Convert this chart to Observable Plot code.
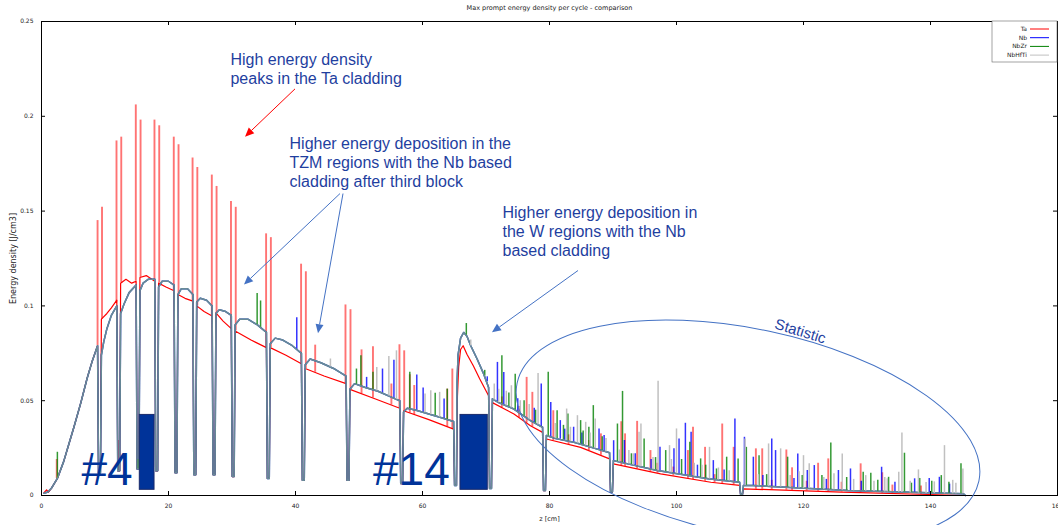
<!DOCTYPE html>
<html><head><meta charset="utf-8">
<script src="https://cdn.jsdelivr.net/npm/d3@7"></script>
<script src="https://cdn.jsdelivr.net/npm/@observablehq/plot@0.6"></script>
<style>body{margin:0;background:#fff;}</style>
</head><body><div id="chart"></div>
<script>
const title = "Max prompt energy density per cycle - comparison";
const xLabel = "z [cm]";
const yLabel = "Energy density [J/cm3]";
const seriesNames = ["Ta", "Nb", "NbZr", "NbHfTi"];
const seriesColors = ["#ff0000", "#0000ff", "#008000", "#c0c0c0"];
const xTicks = [0, 20, 40, 60, 80, 100, 120, 140, 160];
const yTicks = [0, 0.05, 0.1, 0.15, 0.2, 0.25];

// base curve of Ta cladding [z, value]
const taBase = [[0.4,0.0015],[0.8,0.003],[1.1,0.0018],[1.6,0.004],[2.5,0.009],[3.5,0.018],[4.3,0.027],[5.1,0.036],[6.2,0.049],[7.2,0.062],[8.0,0.071],[8.83,0.079],
[8.98,0.012],[9.28,0.012],[9.43,0.093],[10.3,0.096],[11.0,0.099],[11.86,0.103],
[12.01,0.013],[12.31,0.013],[12.46,0.112],[13.3,0.114],[14.2,0.112],[14.9,0.113],
[15.05,0.014],[15.35,0.014],[15.5,0.115],[16.5,0.116],[17.84,0.113],
[17.99,0.013],[18.29,0.013],[18.44,0.112],[19.6,0.110],[20.88,0.108],
[21.03,0.012],[21.33,0.012],[21.48,0.106],[22.6,0.104],[23.84,0.1025],
[23.99,0.011],[24.29,0.011],[24.44,0.100],[25.6,0.097],[26.87,0.0947],
[27.02,0.011],[27.32,0.011],[27.47,0.0963],[28.6,0.092],[29.89,0.088],
[30.04,0.010],[30.34,0.010],[30.49,0.0868],[33.0,0.082],[35.42,0.078],
[35.57,0.009],[35.87,0.009],[36.02,0.078],[38.5,0.074],[40.93,0.0695],
[41.08,0.008],[41.38,0.008],[41.53,0.067],[44.5,0.063],[47.97,0.059],
[48.12,0.008],[48.42,0.008],[48.57,0.056],[52.5,0.051],[56.42,0.046],
[56.57,0.0063],[56.87,0.0063],[57.02,0.0447],[61.0,0.040],[64.9,0.035],
[65.05,0.0053],[65.35,0.0053],[65.5,0.052],[65.7,0.068],[66.0,0.077],[66.4,0.079],[67.0,0.0745],[68.0,0.0684],[69.0,0.0616],[70.41,0.0526],
[70.56,0.0037],[70.86,0.0037],[71.01,0.049],[74.4,0.043],[77.0,0.0368],[78.91,0.0333],
[79.06,0.0026],[79.36,0.0026],[79.51,0.0298],[84.9,0.0254],[89.46,0.0193],
[89.61,0.0018],[89.91,0.0018],[90.06,0.0167],[97.5,0.0114],[105.4,0.007],[109.94,0.0053],
[110.09,0.0006],[110.39,0.0006],[110.54,0.0035],[126.0,0.0018],[145.5,0.0]];

// base curve shared by the Nb based claddings [z, value]
const nbBase = [[0.4,0.0012],[1.0,0.0018],[1.6,0.004],[2.5,0.009],[3.5,0.018],[4.3,0.027],[5.1,0.036],[6.2,0.049],[7.2,0.062],[8.0,0.071],[8.83,0.079],
[8.98,0.012],[9.28,0.012],[9.43,0.074],[9.8,0.081],[10.3,0.088],[11.0,0.095],[11.86,0.100],
[12.01,0.013],[12.31,0.013],[12.46,0.096],[13.0,0.101],[13.8,0.107],[14.9,0.111],
[15.05,0.014],[15.35,0.014],[15.5,0.108],[16.0,0.112],[16.8,0.114],[17.84,0.114],
[17.99,0.013],[18.29,0.013],[18.44,0.110],[19.0,0.113],[20.0,0.113],[20.88,0.111],
[21.03,0.012],[21.33,0.012],[21.48,0.106],[22.0,0.109],[23.0,0.109],[23.84,0.106],
[23.99,0.011],[24.29,0.011],[24.44,0.102],[25.0,0.104],[26.0,0.103],[26.87,0.100],
[27.02,0.011],[27.32,0.011],[27.47,0.096],[28.0,0.098],[29.0,0.097],[29.89,0.095],
[30.04,0.010],[30.34,0.010],[30.49,0.090],[31.2,0.093],[32.5,0.093],[34.0,0.090],[35.42,0.086],
[35.57,0.009],[35.87,0.009],[36.02,0.080],[36.8,0.083],[38.0,0.082],[39.5,0.079],[40.93,0.075],
[41.08,0.008],[41.38,0.008],[41.53,0.069],[42.3,0.072],[44.0,0.070],[46.0,0.067],[47.97,0.063],
[48.12,0.008],[48.42,0.008],[48.57,0.056],[49.3,0.059],[51.0,0.057],[53.0,0.055],[55.0,0.052],[56.42,0.050],
[56.57,0.0063],[56.87,0.0063],[57.02,0.044],[57.6,0.046],[59.0,0.045],[61.0,0.043],[63.0,0.041],[64.9,0.039],
[65.05,0.0053],[65.35,0.0053],[65.45,0.060],[65.6,0.074],[66.0,0.083],[66.5,0.086],[67.0,0.084],[67.6,0.079],[68.6,0.072],[69.65,0.064],[70.41,0.057],
[70.56,0.0037],[70.86,0.0037],[71.01,0.051],[72.0,0.049],[74.4,0.0456],[77.0,0.0395],[78.91,0.036],
[79.06,0.0026],[79.36,0.0026],[79.51,0.0316],[81.0,0.030],[84.0,0.028],[87.0,0.025],[89.46,0.0225],
[89.61,0.0018],[89.91,0.0018],[90.06,0.0184],[97.0,0.0132],[105.0,0.0088],[109.94,0.007],
[110.09,0.0006],[110.39,0.0006],[110.54,0.0053],[112.0,0.0053],[127.0,0.0026],[145.2,0.0009],[145.5,0.0]];

// spikes [z, foot value, peak value]
const taSpikes = [[8.83,0.079,0.145],[9.53,0.093,0.152],[11.81,0.102,0.187],[12.56,0.112,0.189],
[14.85,0.113,0.206],[15.6,0.115,0.198],[17.79,0.113,0.198],[18.54,0.112,0.195],
[20.83,0.108,0.189],[21.58,0.106,0.185],[23.79,0.1025,0.178],[24.54,0.100,0.173],
[26.82,0.0947,0.169],[27.57,0.096,0.163],[29.84,0.088,0.155],[30.59,0.0868,0.152],
[35.37,0.078,0.138],[36.12,0.078,0.136],[40.88,0.0695,0.122],[41.63,0.067,0.118],
[47.87,0.059,0.1005],[48.66,0.056,0.098],[56.37,0.046,0.0795],[57.12,0.0447,0.0763],[64.7,0.035,0.0667],
[2.4,0.009,0.019],[12.16,0.013,0.029],[43.1,0.065,0.0793],[50.4,0.0536,0.0768],[52.2,0.0514,0.0784],[55.1,0.0477,0.0588],[58.0,0.0435,0.0637],[58.7,0.0427,0.058],[63.9,0.0363,0.0561],
[72.5,0.0464,0.052],[75.2,0.041,0.047],[76.4,0.0382,0.0623],[77.3,0.0363,0.0544],[80.6,0.0289,0.0447],[83.0,0.0269,0.032],[86.2,0.0237,0.029],[88.1,0.0212,0.0325],
[91.3,0.0158,0.0389],[91.9,0.0154,0.0325],[93.8,0.014,0.0391],[95.9,0.0125,0.0237],[97.0,0.0118,0.017],[99.5,0.0103,0.015],[101.8,0.009,0.0237],[102.6,0.0085,0.036],[104.5,0.0075,0.0254],[106.0,0.0068,0.011],[107.2,0.0063,0.0377],[109.0,0.0056,0.0254],
[112.5,0.0033,0.0246],[113.5,0.0032,0.0246],[115.0,0.003,0.008],[117.3,0.0028,0.024],[118.2,0.0027,0.0146],[120.5,0.0024,0.0075],[122.3,0.0022,0.017],[123.9,0.002,0.0193],[126.0,0.0018,0.007],[129.0,0.0015,0.0167],[132.4,0.0012,0.012],[134.0,0.0011,0.0055],[138.5,0.0006,0.005]];

const nbSpikes = [[40.2,0.077,0.0938],[51.2,0.0568,0.0623],[53.7,0.054,0.0667],[55.5,0.0513,0.0714],[59.1,0.0449,0.0635],[60.1,0.0439,0.0567],[63.4,0.0406,0.0509],[70.2,0.06,0.0626],
[71.8,0.0494,0.0702],[72.8,0.0479,0.0649],[75.0,0.0442,0.051],[77.6,0.0384,0.046],[78.7,0.0364,0.0588],[80.2,0.0309,0.0491],[81.7,0.0297,0.0395],[82.4,0.0292,0.035],[83.8,0.0282,0.036],[85.1,0.0269,0.033],[87.8,0.0242,0.0351],[88.6,0.0234,0.0316],
[90.1,0.0184,0.0289],[91.8,0.0171,0.029],[93.5,0.0158,0.022],[96.0,0.014,0.019],[97.4,0.013,0.0254],[99.6,0.0118,0.0246],[100.4,0.0113,0.0298],[101.4,0.0108,0.0381],[102.3,0.0103,0.0333],[103.3,0.0097,0.016],[105.8,0.0085,0.0184],[107.5,0.0079,0.0135],[109.2,0.0073,0.0404],
[110.7,0.0053,0.0307],[112.1,0.0053,0.0202],[113.6,0.005,0.0105],[115.0,0.0048,0.0298],[115.6,0.0047,0.0237],[118.5,0.0041,0.009],[119.1,0.004,0.0219],[120.6,0.0037,0.0132],[121.7,0.0036,0.0158],[123.6,0.0032,0.0085],[125.5,0.0029,0.0132],[127.4,0.0026,0.014],[129.1,0.0024,0.0075],[132.3,0.002,0.0149],[134.4,0.0017,0.007],[137.5,0.0013,0.0088],[139.8,0.0011,0.009],[141.4,0.001,0.0096],[143.0,0.0009,0.006]];

const nbzrSpikes = [[2.5,0.009,0.0228],[15.2,0.014,0.019],[33.96,0.09,0.1065],[34.5,0.0886,0.1026],[49.6,0.0586,0.0667],[50.3,0.0578,0.0737],[52.2,0.0558,0.065],[58.0,0.0457,0.065],[62.0,0.042,0.0539],[63.9,0.04,0.0561],[66.9,0.0845,0.0907],[69.8,0.063,0.066],
[72.5,0.0483,0.0737],[73.6,0.0467,0.054],[74.6,0.0451,0.064],[76.0,0.0418,0.05],[77.8,0.038,0.045],[79.8,0.0313,0.065],[81.2,0.03,0.0447],[82.2,0.0293,0.037],[82.9,0.0289,0.043],[84.9,0.0271,0.0395],[85.3,0.0267,0.034],[86.2,0.0258,0.036],[86.9,0.0251,0.0474],[88.3,0.0237,0.031],
[90.7,0.0179,0.0377],[91.5,0.0173,0.0549],[92.9,0.0163,0.022],[94.9,0.0148,0.0298],[96.7,0.0134,0.02],[98.3,0.0125,0.0237],[100.8,0.0111,0.019],[102.1,0.0104,0.0281],[103.8,0.0095,0.0193],[104.6,0.009,0.016],[106.3,0.0083,0.014],[107.9,0.0078,0.0202],[109.7,0.0071,0.0193],
[111.0,0.0053,0.0254],[113.0,0.0051,0.021],[114.2,0.0049,0.011],[117.5,0.0043,0.0202],[119.8,0.0039,0.0105],[122.9,0.0033,0.0105],[124.3,0.0031,0.0277],[126.8,0.0026,0.0095],[129.4,0.0024,0.0123],[130.6,0.0022,0.0118],[131.7,0.0021,0.008],[133.4,0.0019,0.0096],[135.9,0.0015,0.0223],[137.0,0.0014,0.0065],[138.3,0.0013,0.009],[140.2,0.001,0.0075],[141.7,0.001,0.0105],[142.9,0.0009,0.007],[144.8,0.0009,0.0167]];

const nbhftiSpikes = [[45.5,0.0678,0.072],[52.8,0.0552,0.0675],[54.7,0.0525,0.0733],[55.9,0.0507,0.0763],[60.4,0.0436,0.0535],[61.3,0.0427,0.0553],[62.7,0.0413,0.0544],[67.6,0.079,0.082],
[71.3,0.0504,0.0588],[72.0,0.049,0.056],[73.2,0.0473,0.055],[74.0,0.0462,0.0579],[75.4,0.0433,0.05],[76.8,0.04,0.048],[78.2,0.0373,0.0644],[80.9,0.0301,0.038],[82.7,0.029,0.0456],[83.3,0.0285,0.036],[84.4,0.0276,0.0421],[85.7,0.0263,0.0386],[86.4,0.0256,0.033],[87.2,0.0248,0.0404],[88.9,0.0231,0.03],
[91.0,0.0177,0.024],[92.5,0.0166,0.0237],[93.2,0.016,0.022],[94.1,0.0154,0.0333],[94.4,0.0152,0.0377],[96.3,0.0137,0.02],[97.1,0.0131,0.0602],[98.9,0.0122,0.0263],[99.2,0.012,0.019],[100.0,0.0116,0.0351],[102.8,0.01,0.017],[104.0,0.0093,0.016],[105.2,0.0087,0.0254],[106.6,0.0082,0.0145],[108.3,0.0076,0.013],
[110.8,0.0053,0.0298],[112.9,0.0051,0.011],[114.5,0.0048,0.0272],[116.4,0.0045,0.0246],[117.9,0.0042,0.0105],[119.3,0.004,0.0125],[120.0,0.0038,0.021],[120.9,0.0037,0.0167],[123.2,0.0033,0.0095],[124.8,0.003,0.0115],[126.1,0.0028,0.0219],[127.9,0.0025,0.0085],[129.8,0.0023,0.0105],[131.1,0.0021,0.0075],[132.8,0.0019,0.0095],[133.2,0.0019,0.0088],[135.0,0.0017,0.0123],[135.5,0.0016,0.033],[136.8,0.0014,0.0075],[138.1,0.0013,0.0135],[139.3,0.0011,0.0068],[140.6,0.001,0.0072],[142.2,0.0009,0.0263],[143.5,0.0009,0.008],[144.0,0.0009,0.0065],[145.1,0.0009,0.014]];

// slide annotations, placed in chart units
const notes = [
  {z: 29.76, v: 0.2253, text: "High energy density\npeaks in the Ta cladding"},
  {z: 39.06, v: 0.1758, text: "Higher energy deposition in the\nTZM regions with the Nb based\ncladding after third block"},
  {z: 72.6, v: 0.1395, text: "Higher energy deposition in\nthe W regions with the Nb\nbased cladding"}
];
const blockLabels = [{z: 6.3, v: 0.0053, text: "#4"}, {z: 52.2, v: 0.0053, text: "#14"}];
const blockBars = [{z1: 15.48, z2: 17.8, v1: 0.003, v2: 0.0425}, {z1: 65.98, z2: 70.28, v1: 0.003, v2: 0.0425}];
const arrows = [
  {z1: 40.0, v1: 0.2142, z2: 32.13, v2: 0.189, color: "#ff0000"},
  {z1: 47.09, v1: 0.159, z2: 31.97, v2: 0.111, color: "#4472c4"},
  {z1: 47.56, v1: 0.159, z2: 43.62, v2: 0.0853, color: "#4472c4"},
  {z1: 84.57, v1: 0.1184, z2: 71.02, v2: 0.0858, color: "#4472c4"}
];
const statEllipse = {z: 111.34, v: 0.0332, rz: 37.17, rv: 0.0543, angle: 12};
const statLabel = [{z: 119.5, v: 0.0866, text: "Statistic"}];

const noteColor = "#1f3f9f";
const darkBlue = "#003399";

function overlayMark(index, scales) {
  const x = scales.x, y = scales.y;
  const g = d3.create("svg:g");
  const E = statEllipse;
  const cx = x(E.z), cy = y(E.v);
  const rx = x(E.z + E.rz) - cx, ry = cy - y(E.v + E.rv);
  g.append("ellipse").attr("cx", cx).attr("cy", cy).attr("rx", rx).attr("ry", ry)
    .attr("transform", `rotate(${E.angle} ${cx} ${cy})`)
    .attr("fill", "none").attr("stroke", "#4472c4").attr("stroke-width", 1);
  for (const a of arrows) {
    const x1 = x(a.z1), y1 = y(a.v1), x2 = x(a.z2), y2 = y(a.v2);
    const dx = x2 - x1, dy = y2 - y1, L = Math.hypot(dx, dy), ux = dx / L, uy = dy / L;
    const hl = 9, hw = 4;
    const bx = x2 - ux * hl, by = y2 - uy * hl;
    g.append("line").attr("x1", x1).attr("y1", y1).attr("x2", bx).attr("y2", by)
      .attr("stroke", a.color).attr("stroke-width", 1);
    g.append("path").attr("d", `M${x2},${y2}L${bx - uy * hw},${by + ux * hw}L${bx + uy * hw},${by - ux * hw}Z`)
      .attr("fill", a.color);
  }
  return g.node();
}

function legendMark(index, scales, values, dim) {
  const g = d3.create("svg:g");
  const right = dim.width - dim.marginRight;
  const top = dim.marginTop;
  g.append("rect").attr("x", right - 65).attr("y", top).attr("width", 65).attr("height", 41)
    .attr("fill", "#fff").attr("stroke", "#666").attr("stroke-width", 0.6);
  seriesNames.forEach((n, i) => {
    const yy = top + 8 + i * 8.7;
    g.append("text").attr("x", right - 30).attr("y", yy).attr("dy", "0.32em")
      .attr("text-anchor", "end").attr("font-size", 6).attr("fill", "#222").text(n);
    g.append("line").attr("x1", right - 27).attr("x2", right - 8).attr("y1", yy).attr("y2", yy)
      .attr("stroke", seriesColors[i]).attr("stroke-width", 1);
  });
  return g.node();
}

const X = d => d[0], Y = d => d[1];
const spikeOpts = (color, op, w) => ({x: d => d[0], y1: d => d[1], y2: d => d[2], stroke: color, strokeWidth: w, strokeOpacity: op});

const chart = Plot.plot({
  width: 1058, height: 525,
  marginLeft: 41, marginRight: 1, marginTop: 21, marginBottom: 30,
  x: {domain: [0, 160]},
  y: {domain: [0, 0.25]},
  style: {fontFamily: "'DejaVu Sans', sans-serif", background: "#ffffff", color: "#222"},
  marks: [
    Plot.axisX(xTicks, {tickSize: 0, tickPadding: 8, fontSize: 6, label: null, tickFormat: d => String(d)}),
    Plot.axisY(yTicks, {tickSize: 0, tickPadding: 8, fontSize: 6, label: null, tickFormat: d => String(d)}),
    Plot.text([title], {frameAnchor: "top", dy: -14, lineAnchor: "middle", fontSize: 6.5, fill: "#222"}),
    Plot.text([yLabel], {frameAnchor: "left", dx: -28, rotate: -90, textAnchor: "middle", lineAnchor: "middle", fontSize: 8, fill: "#222"}),
    Plot.text([xLabel], {frameAnchor: "bottom", dy: 23, lineAnchor: "middle", fontSize: 6.5, fill: "#222"}),
    // Ta
    Plot.line(taBase, {x: X, y: Y, stroke: seriesColors[0], strokeWidth: 1.2}),
    Plot.ruleX(taSpikes, spikeOpts(seriesColors[0], 0.55, 1.9)),
    // Nb
    Plot.line(nbBase, {x: X, y: Y, stroke: seriesColors[1], strokeWidth: 1.5}),
    Plot.ruleX(nbSpikes, spikeOpts(seriesColors[1], 0.8, 1.5)),
    // NbZr
    Plot.line(nbBase, {x: X, y: Y, stroke: seriesColors[2], strokeWidth: 1.5, strokeOpacity: 0.6}),
    Plot.ruleX(nbzrSpikes, spikeOpts(seriesColors[2], 0.8, 1.5)),
    // NbHfTi
    Plot.line(nbBase, {x: X, y: Y, stroke: seriesColors[3], strokeWidth: 1.5, strokeOpacity: 0.55}),
    Plot.ruleX(nbhftiSpikes, spikeOpts(seriesColors[3], 1, 1.5)),
    // frame and inward ticks
    Plot.frame({stroke: "#000", strokeWidth: 1}),
    Plot.tickX(xTicks, {x: d => d, insetTop: 470, stroke: "#000"}),
    Plot.tickX(xTicks, {x: d => d, insetBottom: 470, stroke: "#000"}),
    Plot.tickY(yTicks, {y: d => d, insetRight: 1012, stroke: "#000"}),
    Plot.tickY(yTicks, {y: d => d, insetLeft: 1012, stroke: "#000"}),
    legendMark,
    // slide overlays
    overlayMark,
    Plot.text(notes, {x: "z", y: "v", text: "text", textAnchor: "start", lineAnchor: "middle", lineHeight: 1.18,
      fontSize: 16, fontFamily: "'Liberation Sans', Arial, sans-serif", fill: noteColor}),
    Plot.text(statLabel, {x: "z", y: "v", text: "text", rotate: 17, textAnchor: "middle", lineAnchor: "middle",
      fontSize: 15, fontFamily: "'Liberation Sans', Arial, sans-serif", fill: noteColor}),
    Plot.rect(blockBars, {x1: "z1", x2: "z2", y1: "v1", y2: "v2", fill: darkBlue, stroke: "#1a2a6a", strokeWidth: 1}),
    Plot.text(blockLabels, {x: "z", y: "v", text: "text", textAnchor: "start", lineAnchor: "bottom",
      fontSize: 46, fontFamily: "'Liberation Sans', Arial, sans-serif", fill: darkBlue})
  ]
});
document.getElementById("chart").appendChild(chart);
</script>
</body></html>
